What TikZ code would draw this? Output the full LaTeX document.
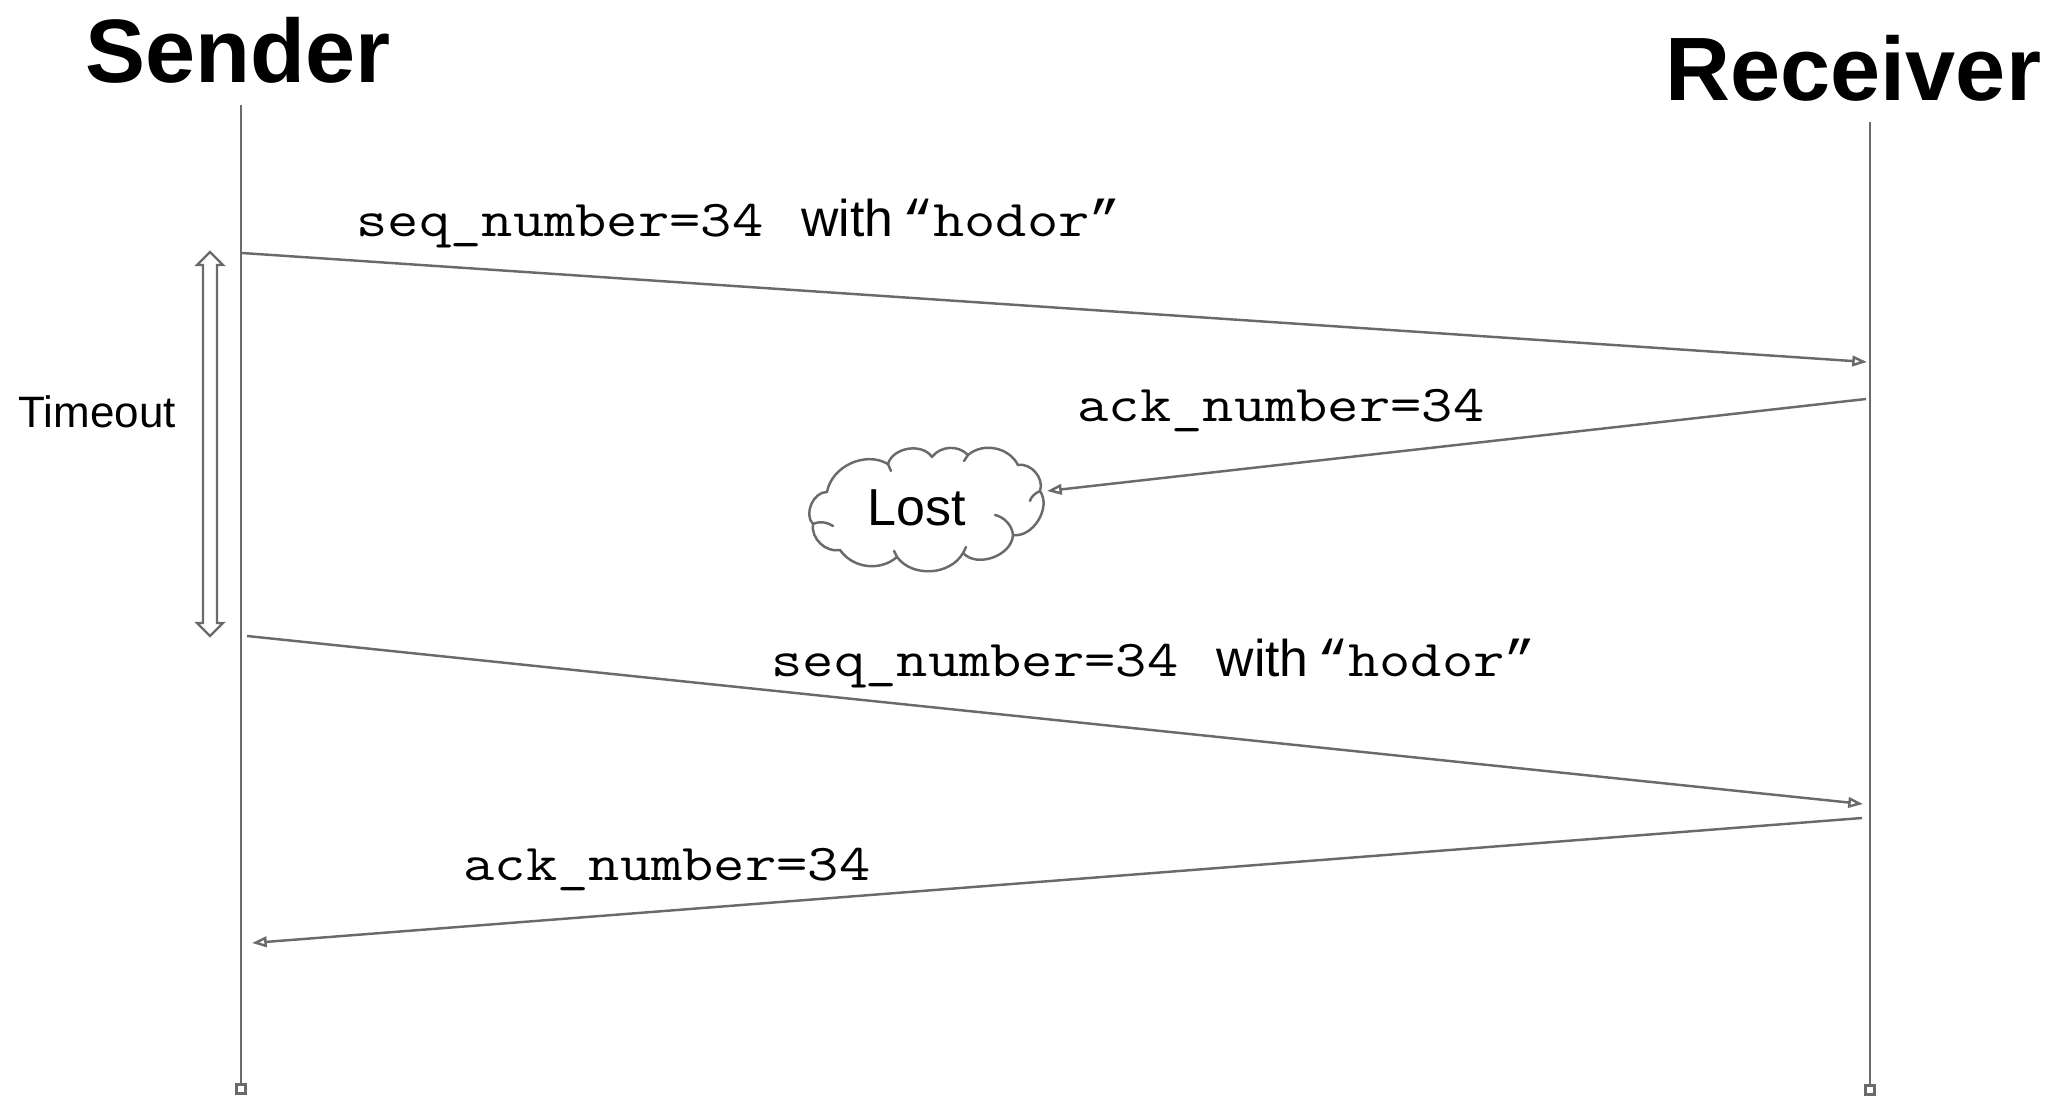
\documentclass[tikz,border=0pt]{standalone}
\usepackage{fontspec}
\setmainfont{Liberation Sans}
\newfontfamily\monof{Latin Modern Mono}[FakeStretch=1.175]
\newfontfamily\quotef{Liberation Mono}
\usetikzlibrary{arrows.meta}
\definecolor{linegray}{HTML}{6A6A6A}
\tikzset{
  lifeline/.style={draw=linegray, line width=0.75pt,
    -{Square[open,length=3.4pt,width=3.4pt,fill=white]}},
  msg/.style={draw=linegray, line width=0.7pt,
    -{Triangle[open,length=4.2pt,width=3pt,fill=white]}},
  outline/.style={draw=linegray, line width=0.7pt, line join=round, line cap=round},
  title/.style={inner sep=0pt, anchor=base west, font=\fontsize{25.6pt}{28pt}\selectfont\bfseries},
  lbl/.style={inner sep=0pt, anchor=base west, font=\fontsize{14.7pt}{17pt}\selectfont},
  side/.style={inner sep=0pt, anchor=base west, font=\fontsize{12.5pt}{15pt}\selectfont},
}
\newcommand{\qmark}[1]{\makebox[8.8pt]{\quotef #1}}
\newcommand{\seqtext}{{\monof seq\_number=34 }\hspace{2pt}with\hspace{2.5pt}\qmark{“}{\monof hodor}\qmark{”}}
\begin{document}
\begin{tikzpicture}[x=0.01cm,y=-0.01cm]
  \useasboundingbox (0,0) rectangle (2053,1097);

  % participants
  \node[title] (sender) at (85,83) {Sender};
  \node[title] (receiver) at (1665,101) {Receiver};

  % lifelines
  \coordinate (sTop) at (241,105);
  \coordinate (sBot) at (241,1095);
  \coordinate (rTop) at (1870,122);
  \coordinate (rBot) at (1870,1096);
  \draw[lifeline] (sTop) -- (sBot);
  \draw[lifeline] (rTop) -- (rBot);

  % message end points
  \coordinate (m1a) at (242,253);
  \coordinate (m1b) at (1867,362);
  \coordinate (m2a) at (1866,399);
  \coordinate (cloudEdge) at (1047,491);
  \coordinate (m3a) at (247,636);
  \coordinate (m3b) at (1863,804);
  \coordinate (m4a) at (1862,818);
  \coordinate (m4b) at (252,943);

  % cloud where the first acknowledgement is lost
  \draw[outline, fill=white]
    (813,524) to[bend left=68] (827,492)
              to[bend left=55] (888,464)
              to[bend left=65] (932,457)
              to[bend left=50] (968,455)
              to[bend left=52] (1018,465)
              to[bend left=60] (1040,491)
              to[bend left=67] (1013,535)
              to[bend left=67] (963,553)
              to[bend left=57] (897,557)
              to[bend left=48] (840,550)
              to[bend left=55] (813,524) -- cycle;
  % inner strokes of the cloud
  \draw[outline] (813,524) .. controls (820,521) and (827,522) .. (833,526);
  \draw[outline] (1040,491) .. controls (1035,493) and (1031,497) .. (1030,501);
  \draw[outline] (1013,535) .. controls (1012,525) and (1004,517) .. (995,515);
  \draw[outline] (888,464) .. controls (889,467) .. (891,471);
  \draw[outline] (968,455) .. controls (966,458) .. (964,461);
  \draw[outline] (963,553) .. controls (964,550) .. (966,547);
  \draw[outline] (897,557) .. controls (896,554) .. (894,551);
  \node[inner sep=0pt, font=\fontsize{14.8pt}{17pt}\selectfont] (lost) at (917,508) {Lost};

  % messages
  \draw[msg] (m1a) -- (m1b);
  \draw[msg] (m2a) -- (cloudEdge);
  \draw[msg] (m3a) -- (m3b);
  \draw[msg] (m4a) -- (m4b);

  % message labels
  \node[lbl] (l1) at (356,237) {\seqtext};
  \node[lbl] (l2) at (1077,422) {\monof ack\_number=34};
  \node[lbl] (l3) at (771,676) {\seqtext};
  \node[lbl] (l4) at (463,880) {\monof ack\_number=34};

  % timeout interval
  \draw[draw=linegray, line width=0.7pt, fill=white]
    (210,252) -- (223,265) -- (217,265) -- (217,623) -- (223,623) -- (210,636)
    -- (197,623) -- (203,623) -- (203,265) -- (197,265) -- cycle;
  \node[side] (timeout) at (18,428) {Timeout};
\end{tikzpicture}
\end{document}
